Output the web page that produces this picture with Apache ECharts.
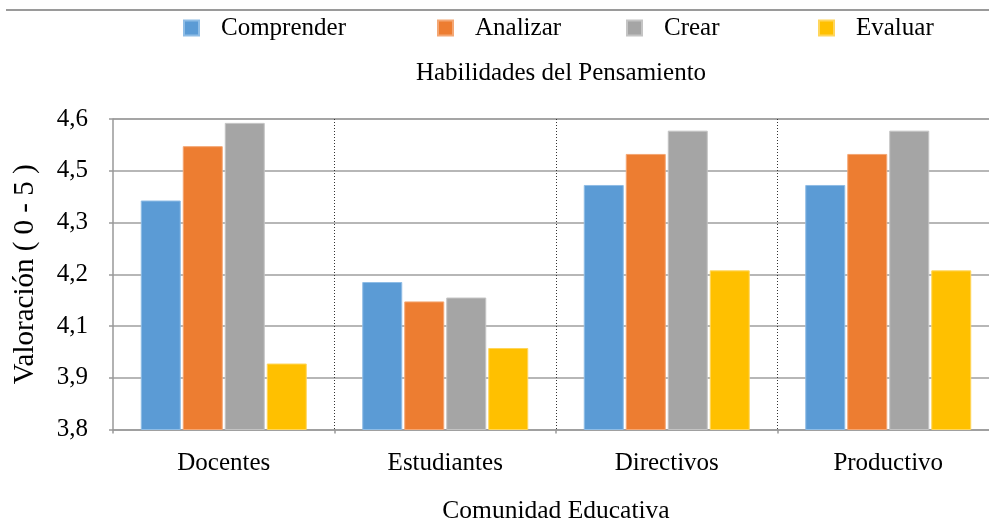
<!DOCTYPE html>
<html>
<head>
<meta charset="utf-8">
<script src="https://cdn.jsdelivr.net/npm/echarts@6/dist/echarts.min.js"></script>
<style>
html,body{margin:0;padding:0;background:#fff;}
#chart{width:989px;height:523px;}
</style>
</head>
<body>
<div id="chart"></div>
<script>
var categories = ['Docentes', 'Estudiantes', 'Directivos', 'Productivo'];
var seriesNames = ['Comprender', 'Analizar', 'Crear', 'Evaluar'];
var comprender = [4.39, 4.18, 4.43, 4.43];
var analizar = [4.53, 4.13, 4.51, 4.51];
var crear = [4.59, 4.14, 4.57, 4.57];
var evaluar = [3.97, 4.01, 4.21, 4.21];
var yMin = 3.8, yMax = 4.6, ySteps = 6;

var FONT = 'Liberation Serif';
var colors = ['#5B9BD5', '#ED7D31', '#A5A5A5', '#FFC000'];
var borders = ['#8fbde6', '#f4a774', '#c4c4c4', '#ffd65c'];
var values = [comprender, analizar, crear, evaluar];
var legendLefts = [178, 432, 621, 813];

var chart = echarts.init(document.getElementById('chart'), null, {renderer: 'canvas'});

var legends = seriesNames.map(function (n, i) {
  return {
    data: [n],
    left: legendLefts[i],
    top: 10,
    itemWidth: 15,
    itemHeight: 15,
    icon: 'rect',
    selectedMode: false,
    textStyle: {fontFamily: FONT, fontSize: 25, color: '#000', padding: [0, 0, 0, 17], lineHeight: 26}
  };
});

var series = seriesNames.map(function (n, i) {
  return {
    name: n,
    type: 'bar',
    data: values[i],
    barWidth: 40,
    barGap: '5%',
    itemStyle: {color: colors[i], borderColor: borders[i], borderWidth: 1},
    emphasis: {disabled: true}
  };
});

chart.setOption({
  animation: false,
  color: colors,
  title: {
    text: 'Habilidades del Pensamiento',
    left: 556,
    textAlign: 'center',
    top: 56,
    textStyle: {fontFamily: FONT, fontSize: 25, fontWeight: 'normal', color: '#000'}
  },
  legend: legends,
  graphic: [{
    type: 'line',
    shape: {x1: 6, y1: 10, x2: 989, y2: 10},
    style: {stroke: '#9a9a9a', lineWidth: 2}
  }],
  grid: {left: 113, top: 119, bottom: 93.5, right: -10, containLabel: false, outerBoundsMode: 'none'},
  xAxis: {
    type: 'category',
    data: categories,
    boundaryGap: true,
    name: 'Comunidad Educativa',
    nameLocation: 'middle',
    nameGap: 69,
    nameTextStyle: {fontFamily: FONT, fontSize: 25.5, color: '#000'},
    axisLine: {lineStyle: {color: '#999', width: 1.5}},
    axisTick: {show: true, length: 4, lineStyle: {color: '#999', width: 1.5}},
    axisLabel: {fontFamily: FONT, fontSize: 25, color: '#000', margin: 21},
    splitLine: {show: true, showMinLine: false, showMaxLine: false, lineStyle: {color: '#333', type: [1, 2], width: 1}}
  },
  yAxis: {
    type: 'value',
    min: yMin,
    max: yMax,
    interval: (yMax - yMin) / ySteps,
    name: 'Valoración ( 0 - 5 )',
    nameLocation: 'middle',
    nameGap: 73,
    nameTextStyle: {fontFamily: FONT, fontSize: 29, color: '#000'},
    axisLine: {show: true, lineStyle: {color: '#999', width: 1.5}},
    axisTick: {show: true, length: 4, lineStyle: {color: '#999', width: 1.5}},
    axisLabel: {
      fontFamily: FONT, fontSize: 25, color: '#000', margin: 25,
      formatter: function (v) { return v.toFixed(1).replace('.', ','); }
    },
    splitLine: {show: true, lineStyle: {color: '#9f9f9f', width: 1.5}}
  },
  series: series
});
</script>
</body>
</html>
